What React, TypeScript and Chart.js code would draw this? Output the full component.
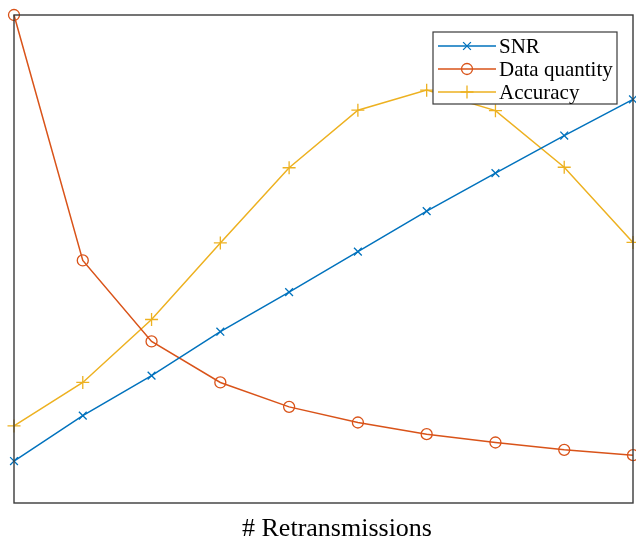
import React, { useEffect, useRef } from "react";
import { Chart, registerables } from "chart.js";

Chart.register(...registerables);

const retransmissions = [1, 2, 3, 4, 5, 6, 7, 8, 9, 10];
const snr = [0.086, 0.179, 0.261, 0.351, 0.432, 0.515, 0.598, 0.676, 0.753, 0.827];
const dataQuantity = [1.0, 0.497, 0.331, 0.247, 0.197, 0.165, 0.141, 0.124, 0.109, 0.098];
const accuracy = [0.158, 0.247, 0.376, 0.533, 0.687, 0.805, 0.846, 0.804, 0.688, 0.534];
const seriesLabels = ["SNR", "Data quantity", "Accuracy"];
const seriesColors = ["#0072BD", "#D95319", "#EDB120"];
const xTitle = "# Retransmissions";

const SERIF = '"Liberation Serif", "Times New Roman", serif';

function drawMarker(ctx: CanvasRenderingContext2D, style: string, x: number, y: number, r: number, color: string) {
  ctx.save();
  ctx.strokeStyle = color;
  ctx.lineWidth = 1.3;
  ctx.beginPath();
  if (style === "circle") {
    ctx.arc(x, y, r, 0, Math.PI * 2);
  } else if (style === "cross") {
    ctx.moveTo(x - r, y);
    ctx.lineTo(x + r, y);
    ctx.moveTo(x, y - r);
    ctx.lineTo(x, y + r);
  } else {
    const d = r * Math.SQRT1_2;
    ctx.moveTo(x - d, y - d);
    ctx.lineTo(x + d, y + d);
    ctx.moveTo(x - d, y + d);
    ctx.lineTo(x + d, y - d);
  }
  ctx.stroke();
  ctx.restore();
}

const framePlugin = {
  id: "frame",
  afterDraw(chart: any) {
    const ctx: CanvasRenderingContext2D = chart.ctx;
    const a = chart.chartArea;
    ctx.save();
    // axes box
    ctx.strokeStyle = "#3a3a3a";
    ctx.lineWidth = 1.4;
    ctx.strokeRect(a.left, a.top, a.right - a.left, a.bottom - a.top);

    // x title
    ctx.fillStyle = "#000";
    ctx.font = `26px ${SERIF}`;
    ctx.textAlign = "center";
    ctx.textBaseline = "alphabetic";
    ctx.fillText(xTitle, 337, 536);

    // legend
    const bx = 433, by = 32, bw = 184, bh = 72;
    ctx.fillStyle = "#fff";
    ctx.fillRect(bx, by, bw, bh);
    ctx.strokeStyle = "#3a3a3a";
    ctx.lineWidth = 1.2;
    ctx.strokeRect(bx, by, bw, bh);
    const rows = [46, 69, 92];
    chart.data.datasets.forEach((ds: any, i: number) => {
      const y = rows[i];
      ctx.strokeStyle = ds.borderColor;
      ctx.lineWidth = 1.5;
      ctx.beginPath();
      ctx.moveTo(438, y);
      ctx.lineTo(496, y);
      ctx.stroke();
      drawMarker(ctx, ds.pointStyle, 467, y, ds.pointRadius, ds.borderColor);
      ctx.fillStyle = "#000";
      ctx.font = `21px ${SERIF}`;
      ctx.textAlign = "left";
      ctx.textBaseline = "middle";
      ctx.fillText(ds.label, 499, y + 1);
    });
    ctx.restore();
  },
};

export default function App() {
  const ref = useRef<HTMLCanvasElement>(null);
  useEffect(() => {
    if (!ref.current) return;
    const mk = (values: number[], i: number, style: string, r: number) => ({
      label: seriesLabels[i],
      data: retransmissions.map((x, k) => ({ x, y: values[k] })),
      borderColor: seriesColors[i],
      backgroundColor: "rgba(0,0,0,0)",
      pointBackgroundColor: "rgba(0,0,0,0)",
      pointBorderColor: seriesColors[i],
      pointBorderWidth: 1.3,
      borderWidth: 1.5,
      pointStyle: style,
      pointRadius: r,
      pointHoverRadius: r,
      tension: 0,
      clip: false as any,
    });
    const chart = new Chart(ref.current, {
      type: "line",
      data: {
        datasets: [
          mk(snr, 0, "crossRot", 5.5),
          mk(dataQuantity, 1, "circle", 5.5),
          mk(accuracy, 2, "cross", 6.5),
        ],
      },
      options: {
        animation: false,
        responsive: false,
        maintainAspectRatio: false,
        layout: { autoPadding: false, padding: { left: 14, top: 15, right: 3, bottom: 37 } },
        scales: {
          x: { type: "linear", min: 1, max: 10, display: false },
          y: { type: "linear", min: 0, max: 1, display: false },
        },
        plugins: {
          legend: { display: false },
          tooltip: { enabled: false },
          title: { display: false },
        },
      },
      plugins: [framePlugin],
    });
    return () => chart.destroy();
  }, []);
  return (
    <div style={{ position: "fixed", left: 0, top: 0, width: 636, height: 540, background: "#fff" }}>
      <canvas ref={ref} width={636} height={540} style={{ width: 636, height: 540, display: "block" }} />
    </div>
  );
}
